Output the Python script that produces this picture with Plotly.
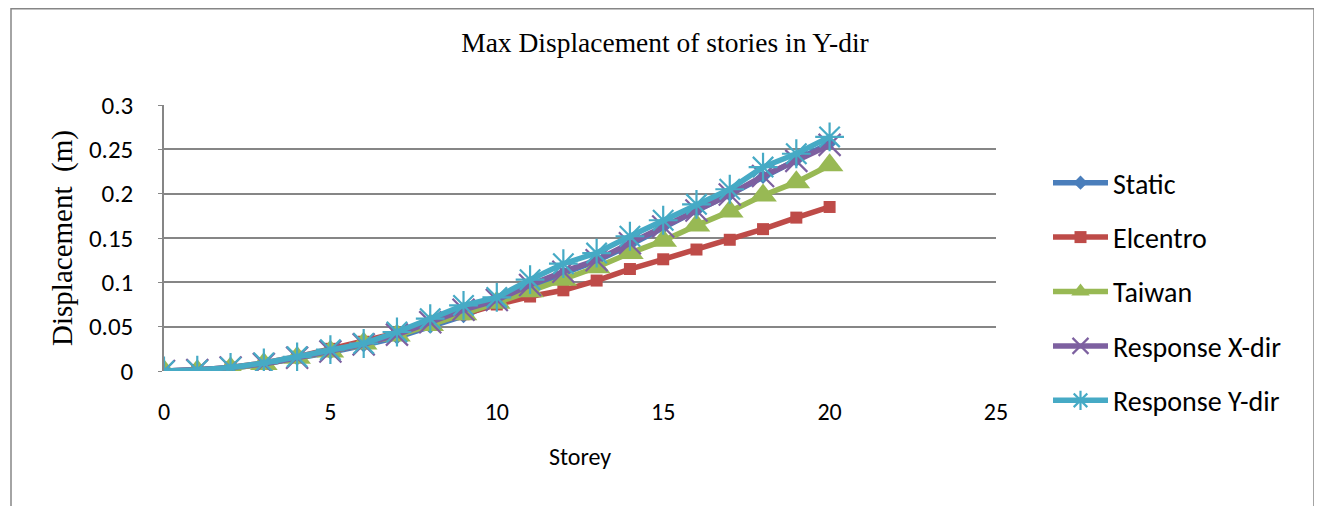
import plotly.graph_objects as go

storey = list(range(0, 21))
static = [0, 0.001, 0.003, 0.008, 0.014, 0.021, 0.029, 0.038, 0.050, 0.062, 0.078,
          0.095, 0.110, 0.124, 0.142, 0.162, 0.181, 0.199, 0.219, 0.238, 0.257]
elcentro = [0, 0.001, 0.004, 0.009, 0.016, 0.025, 0.033, 0.043, 0.053, 0.064, 0.075,
            0.084, 0.091, 0.102, 0.115, 0.126, 0.137, 0.148, 0.160, 0.173, 0.185]
taiwan = [0, 0, 0.003, 0.008, 0.015, 0.022, 0.031, 0.040, 0.052, 0.064, 0.077,
          0.090, 0.103, 0.117, 0.133, 0.147, 0.164, 0.180, 0.198, 0.213, 0.232]
resp_x = [0, 0.001, 0.004, 0.008, 0.015, 0.022, 0.030, 0.041, 0.055, 0.069, 0.080,
          0.097, 0.112, 0.125, 0.144, 0.163, 0.181, 0.199, 0.220, 0.237, 0.255]
resp_y = [0, 0.001, 0.004, 0.009, 0.016, 0.024, 0.031, 0.044, 0.059, 0.074, 0.083,
          0.103, 0.121, 0.133, 0.152, 0.170, 0.188, 0.205, 0.230, 0.245, 0.264]

x_ticks = [0, 5, 10, 15, 20, 25]
y_ticks = [0, 0.05, 0.1, 0.15, 0.2, 0.25, 0.3]
y_tick_labels = ["0", "0.05", "0.1", "0.15", "0.2", "0.25", "0.3"]

SANS = "Carlito, Lato, 'DejaVu Sans', sans-serif"
SERIF = "'Liberation Serif', 'Times New Roman', serif"

series = [
    ("Static", static, "#4A7EBB", dict(symbol="diamond", size=11)),
    ("Elcentro", elcentro, "#BE4B48", dict(symbol="square", size=12)),
    ("Taiwan", taiwan, "#98B954", dict(symbol="triangle-up", size=24)),
    ("Response X-dir", resp_x, "#7D60A0", dict(symbol="x-thin-open", size=22)),
    ("Response Y-dir", resp_y, "#46AAC5", dict(symbol="asterisk-open", size=24)),
]

fig = go.Figure()
for name, vals, color, mk in series:
    marker = dict(color=color, **mk)
    if mk["symbol"].endswith("-open"):
        marker["line"] = dict(color=color, width=2.2)
    fig.add_trace(go.Scatter(
        x=storey, y=vals, name=name, mode="lines+markers",
        line=dict(color=color, width=5.5),
        marker=marker, legendgroup=name,
    ))

# figure is drawn with an 8px page offset; plot area spans x 156..988, y 97..363 in figure px
PL, PR, PT, PB = 156, 988, 97, 363
def px(fx):
    return (fx - PL) / (PR - PL)
def py(fy):
    return (PB - fy) / (PB - PT)

fig.update_layout(
    width=1314, height=498,
    margin=dict(l=PL, r=1314 - PR, t=PT, b=498 - PB),
    paper_bgcolor="white", plot_bgcolor="white",
    title=dict(text="Max Displacement of stories in Y-dir", x=0.5, xanchor="center",
               y=0.93, yanchor="middle", yref="container",
               font=dict(family=SERIF, size=27.5, color="#000000")),
    legend=dict(x=px(1040), xanchor="left", y=py(150), yanchor="top",
                font=dict(family=SANS, size=28, color="#000000"),
                tracegroupgap=15, itemwidth=55, bgcolor="rgba(0,0,0,0)",
                maxheight=480),
    shapes=[dict(type="rect", xref="paper", yref="paper",
                 x0=px(3), x1=px(1306),
                 y0=py(520), y1=py(0.8),
                 line=dict(color="#868686", width=1.5), layer="below")],
)
fig.update_xaxes(
    range=[0, 25], tickvals=x_ticks, showgrid=False, zeroline=False, showline=False,
    ticks="", ticklabelstandoff=24,
    tickfont=dict(family=SANS, size=24, color="#000000"),
    title=dict(text="Storey", font=dict(family=SANS, size=24, color="#000000"), standoff=23),
)
fig.update_yaxes(
    range=[0, 0.3], tickvals=y_ticks, ticktext=y_tick_labels,
    showgrid=True, gridcolor="#868686", gridwidth=1.5,
    zeroline=False, showline=True, linecolor="#868686", linewidth=1.5,
    ticks="outside", ticklen=4, tickcolor="#868686", ticklabelstandoff=20,
    tickfont=dict(family=SANS, size=25, color="#000000"),
    title=dict(text="Displacement  (m)", font=dict(family=SERIF, size=29, color="#000000"), standoff=8),
)

fig.write_html("out.html")
